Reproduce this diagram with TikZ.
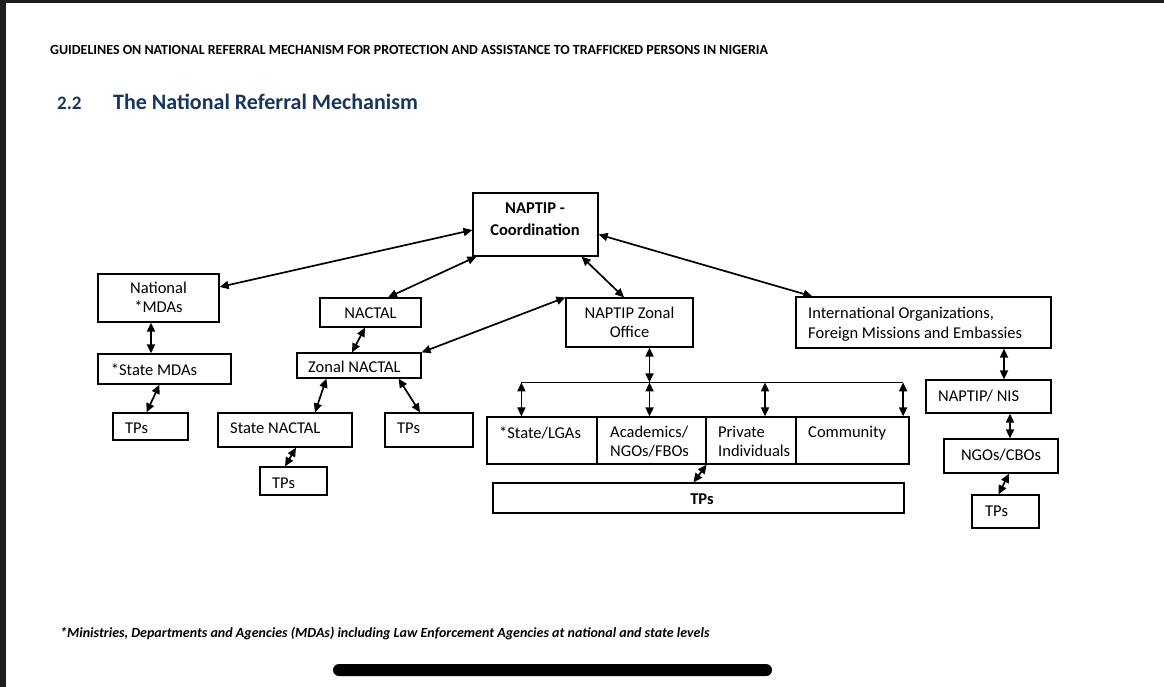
\documentclass[tikz,border=0pt]{standalone}
\usepackage{fontspec}
\setmainfont{Carlito}
\usetikzlibrary{arrows.meta,calc,fit}
\definecolor{navy}{RGB}{23,54,93}
\definecolor{framegray}{RGB}{30,30,30}
\begin{document}
\begin{tikzpicture}[x=1pt,y=-1pt,
  box/.style={draw=black, line width=1.2pt, inner sep=0pt},
  txt/.style={inner sep=0pt, anchor=base west, font=\fontsize{16.5}{19.5}\selectfont},
  ctxt/.style={inner sep=0pt, anchor=base, font=\fontsize{16.5}{19.5}\selectfont},
  btxt/.style={ctxt, font=\fontsize{16.5}{19.5}\selectfont\bfseries},
  link/.style={line width=1.7pt, {Triangle[length=9pt,width=8pt]}-{Triangle[length=9pt,width=8pt]}},
  bus/.style={line width=1.7pt}]
\useasboundingbox (0,0) rectangle (1164,687);
\fill[white] (0,0) rectangle (1164,687);
\fill[framegray] (0,0) rectangle (6,687);
\fill[framegray] (0,0) rectangle (1164,3);

% headings
\node[inner sep=0pt, anchor=base west, font=\fontsize{13.95}{16}\selectfont\bfseries] (hdr) at (50,55)
  {GUIDELINES ON NATIONAL REFERRAL MECHANISM FOR PROTECTION AND ASSISTANCE TO TRAFFICKED PERSONS IN NIGERIA};
\node[inner sep=0pt, anchor=base west, text=navy, font=\fontsize{19}{22}\selectfont\bfseries] (secno) at (57,110) {2.2};
\node[inner sep=0pt, anchor=base west, text=navy, font=\fontsize{22}{26}\selectfont\bfseries] (title) at (113,110) {The National Referral Mechanism};

% boxes
\node[box, fit={(473,193)(598,256)}] (coord) {};
\node[box, fit={(98,274)(219,322)}] (mdas) {};
\node[box, fit={(98,354)(231,384)}] (smdas) {};
\node[box, fit={(113,413)(188,440)}] (tpa) {};
\node[box, fit={(320,298)(421,327)}] (nactal) {};
\node[box, fit={(297,353)(421,378)}] (znactal) {};
\node[box, fit={(218,413)(352,447)}] (snactal) {};
\node[box, fit={(385,413)(473,447)}] (tpb) {};
\node[box, fit={(260,467)(327,495)}] (tpc) {};
\node[box, fit={(566,298)(693,347)}] (zoffice) {};
\node[box, fit={(796,297)(1051,348)}] (intl) {};
\node[box, fit={(926,380)(1051,413)}] (nis) {};
\node[box, fit={(944,439)(1058,473)}] (ngos) {};
\node[box, fit={(972,495)(1039,528)}] (tpe) {};
\node[box, fit={(487,417)(597,464)}] (state) {};
\node[box, fit={(597,417)(706,464)}] (acad) {};
\node[box, fit={(706,417)(796,464)}] (priv) {};
\node[box, fit={(796,417)(909,464)}] (comm) {};
\node[box, fit={(493,483)(904,513)}] (tpd) {};

% texts
\node[btxt] (t-coord1) at (535,214) {NAPTIP -};
\node[btxt] (t-coord2) at (535,235) {Coordination};
\node[ctxt] (t-mdas1) at (158.5,293) {National};
\node[ctxt] (t-mdas2) at (158.5,312) {*MDAs};
\node[txt] (t-smdas) at (110.7,375) {*State MDAs};
\node[txt] (t-tpa) at (125,433) {TPs};
\node[ctxt] (t-nactal) at (370.5,318) {NACTAL};
\node[txt] (t-znactal) at (308,372) {Zonal NACTAL};
\node[txt] (t-snactal) at (230,433) {State NACTAL};
\node[txt] (t-tpb) at (397,433) {TPs};
\node[txt] (t-tpc) at (272,488) {TPs};
\node[ctxt] (t-zoff1) at (629.5,318) {NAPTIP Zonal};
\node[ctxt] (t-zoff2) at (629.5,337) {Office};
\node[txt] (t-intl1) at (808,318) {International Organizations,};
\node[txt] (t-intl2) at (808,338) {Foreign Missions and Embassies};
\node[txt] (t-nis) at (938,401) {NAPTIP/ NIS};
\node[ctxt] (t-ngos) at (1001,460) {NGOs/CBOs};
\node[txt] (t-tpe) at (985,516) {TPs};
\node[txt] (t-state) at (499,438) {*State/LGAs};
\node[txt] (t-acad1) at (610,437) {Academics/};
\node[txt] (t-acad2) at (610,456) {NGOs/FBOs};
\node[txt] (t-priv1) at (718,437) {Private};
\node[txt] (t-priv2) at (718,456) {Individuals};
\node[txt] (t-comm) at (808,437) {Community};
\node[btxt] (t-tpd) at (702,504) {TPs};

% connectors
\draw[link] ($(coord.west)+(0,5.5)$) -- ($(mdas.east)+(0,-11)$);
\draw[link] ($(coord.south west)+(4,0)$) -- ($(nactal.north)+(17.5,0)$);
\draw[link] ($(coord.south east)+(-17,0)$) -- ($(zoffice.north)+(-5.5,0)$);
\draw[link] ($(coord.east)+(0,10)$) -- ($(intl.north west)+(17,0)$);
\draw[link] (znactal.north east) -- (zoffice.north west);
\draw[link] ($(nactal.south)+(-5.5,0)$) -- ($(znactal.north)+(-7,0)$);
\coordinate (a1) at ($(mdas.south)+(-7.5,0)$);
\draw[link] (a1) -- (a1 |- smdas.north);
\draw[link] ($(smdas.south)+(-5,0)$) -- ($(tpa.north)+(-4,0)$);
\draw[link] ($(znactal.south west)+(30,0)$) -- ($(snactal.north)+(30,0)$);
\draw[link] ($(znactal.south east)+(-23,0)$) -- ($(tpb.north)+(-9,0)$);
\draw[link] ($(snactal.south)+(11,0)$) -- ($(tpc.north)+(-8.5,0)$);

\coordinate (busL) at ($(state.north west)+(35,-34)$);
\coordinate (busR) at ($(comm.north east)+(-6.5,-34)$);
\draw[bus] (busL) -- (busR);
\coordinate (a2) at ($(zoffice.south)+(20,0)$);
\draw[link] (a2) -- (a2 |- busL);
\draw[link] (busL) -- (busL |- state.north);
\draw[link] (a2 |- busL) -- (a2 |- acad.north);
\coordinate (a3) at ($(priv.north)+(14,-34)$);
\draw[link] (a3) -- (a3 |- priv.north);
\draw[link] (busR) -- (busR |- comm.north);
\draw[link] (acad.south east) -- ($(tpd.north)+(-5,0)$);

\coordinate (a4) at ($(intl.south)+(80.5,0)$);
\draw[link] (a4) -- (a4 |- nis.north);
\coordinate (a5) at ($(nis.south)+(21.5,0)$);
\draw[link] (a5) -- (a5 |- ngos.north);
\draw[link] ($(ngos.south)+(8,0)$) -- ($(tpe.north)+(-7,0)$);

% footnote
\node[inner sep=0pt, anchor=base west, font=\fontsize{14}{16}\selectfont\bfseries\itshape] (foot) at (60,637)
  {*Ministries, Departments and Agencies (MDAs) including Law Enforcement Agencies at national and state levels};

% scroll bar
\fill[black, rounded corners=6pt] (333,664) rectangle (772,676);
\end{tikzpicture}
\end{document}
